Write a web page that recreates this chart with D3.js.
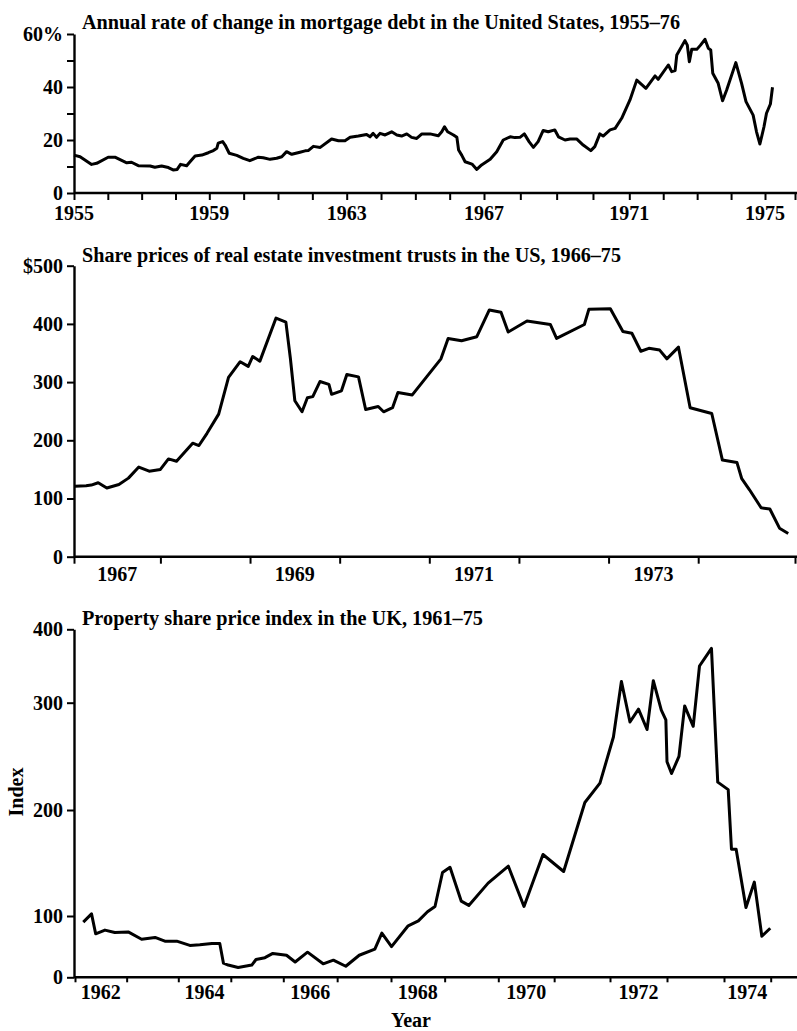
<!DOCTYPE html>
<html>
<head>
<meta charset="utf-8">
<script src="https://cdn.jsdelivr.net/npm/d3@7"></script>
<style>
  body { margin: 0; background: #fff; }
  svg text { font-family: "Liberation Serif", "Times New Roman", serif; font-weight: bold; fill: #000; }
</style>
</head>
<body>
<svg id="chart" width="797" height="1031"></svg>
<script>
// ---- Panel 1: annual rate of change in US mortgage debt (%)
const mortgageYears = [1955.00,1955.18,1955.52,1955.67,1956.01,1956.21,1956.56,1956.70,1956.90,1957.25,
  1957.39,1957.59,1957.79,1957.93,1958.05,1958.15,1958.33,1958.43,1958.58,1958.78,
  1958.97,1959.12,1959.22,1959.26,1959.39,1959.46,1959.58,1959.80,1959.99,1960.18,
  1960.43,1960.57,1960.77,1960.96,1961.11,1961.25,1961.40,1961.64,1961.79,1961.88,
  1962.03,1962.23,1962.56,1962.76,1962.95,1963.10,1963.34,1963.58,1963.68,1963.77,
  1963.87,1963.97,1964.12,1964.31,1964.46,1964.60,1964.75,1964.89,1965.04,1965.19,
  1965.43,1965.67,1965.77,1965.85,1965.94,1966.11,1966.21,1966.26,1966.35,1966.45,
  1966.65,1966.79,1966.93,1967.17,1967.35,1967.53,1967.72,1967.85,1967.99,1968.11,
  1968.24,1968.36,1968.49,1968.63,1968.77,1968.95,1969.05,1969.23,1969.37,1969.55,
  1969.73,1969.94,1970.05,1970.19,1970.28,1970.47,1970.61,1970.79,1971.02,1971.22,
  1971.49,1971.76,1971.85,1972.15,1972.25,1972.35,1972.40,1972.64,1972.71,1972.77,
  1972.84,1972.99,1973.10,1973.23,1973.33,1973.40,1973.46,1973.62,1973.75,1973.87,
  1974.14,1974.31,1974.44,1974.65,1974.75,1974.85,1974.97,1975.05,1975.18,1975.25];
const mortgageRate = [14.3,13.7,10.8,11.2,13.5,13.5,11.4,11.6,10.3,10.2,
  9.7,10.2,9.6,8.7,8.9,10.8,10.3,11.8,14.0,14.3,
  15.2,16.0,16.9,18.8,19.4,18.1,15.0,14.2,13.1,12.2,
  13.5,13.3,12.7,13.1,13.7,15.6,14.6,15.4,15.9,16.0,
  17.6,17.2,20.4,19.7,19.7,21.0,21.5,22.1,21.2,22.5,
  21.0,22.5,21.9,23.1,21.9,21.5,22.3,21.0,20.6,22.3,
  22.3,21.6,23.1,25.0,23.1,21.9,21.0,16.2,14.3,11.8,
  10.9,8.9,10.6,12.7,15.6,20.0,21.2,20.9,21.0,22.3,
  19.4,17.2,19.4,23.6,23.1,23.8,21.2,20.0,20.4,20.4,
  18.1,16.0,17.5,22.3,21.5,23.8,24.4,28.2,35.1,42.6,
  39.5,44.2,42.9,48.3,45.8,46.2,52.1,57.5,55.8,49.5,
  54.2,54.2,55.8,58.0,54.6,54.0,45.2,41.4,34.8,38.9,
  49.2,41.4,34.5,29.4,23.1,18.5,25.0,30.1,33.6,39.9];
const mortgageYTicks = [0, 10, 20, 30, 40, 50, 60];
const mortgageYLabels = [0, 20, 40, 60];
const mortgageXLabels = [1955, 1959, 1963, 1967, 1971, 1975];

// ---- Panel 2: share prices of US real estate investment trusts ($)
const reitYears = [1967.01,1967.14,1967.20,1967.28,1967.38,1967.52,1967.63,1967.75,1967.87,1968.00,
  1968.09,1968.18,1968.36,1968.43,1968.52,1968.65,1968.76,1968.89,1968.98,1969.03,
  1969.11,1969.29,1969.40,1969.45,1969.50,1969.58,1969.64,1969.70,1969.78,1969.88,
  1969.91,1970.02,1970.08,1970.21,1970.29,1970.43,1970.49,1970.59,1970.65,1970.81,
  1971.13,1971.21,1971.36,1971.53,1971.67,1971.80,1971.88,1972.09,1972.35,1972.42,
  1972.73,1972.78,1973.02,1973.16,1973.26,1973.36,1973.45,1973.57,1973.65,1973.78,
  1973.91,1974.14,1974.25,1974.40,1974.45,1974.53,1974.65,1974.74,1974.84,1974.93];
const reitPrice = [121,122,123,127,118,124,135,154,147,150,
  168,164,195,191,212,245,308,335,327,344,
  336,410,403,341,268,249,273,275,301,296,
  279,285,313,309,253,258,249,256,282,278,
  340,375,371,378,424,420,386,405,399,375,
  399,425,426,387,384,353,358,355,340,360,
  256,246,166,162,134,115,84,82,49,40];
const reitYTicks = [0, 100, 200, 300, 400, 500];
const reitXLabels = [1967, 1969, 1971, 1973];

// ---- Panel 3: UK property share price index
const ukYears = [1962.16,1962.32,1962.40,1962.58,1962.77,1963.03,1963.29,1963.55,1963.74,1963.97,
  1964.22,1964.41,1964.64,1964.79,1964.86,1964.95,1965.14,1965.40,1965.48,1965.65,
  1965.80,1966.06,1966.22,1966.45,1966.74,1966.93,1967.16,1967.41,1967.70,1967.83,
  1968.01,1968.32,1968.51,1968.68,1968.82,1968.96,1969.10,1969.31,1969.45,1969.81,
  1970.18,1970.46,1970.80,1971.17,1971.55,1971.82,1972.06,1972.20,1972.35,1972.50,
  1972.65,1972.76,1972.90,1972.98,1973.00,1973.08,1973.21,1973.31,1973.46,1973.57,
  1973.78,1973.89,1974.09,1974.16,1974.26,1974.47,1974.65,1974.81,1974.99];
const ukIndex = [90,102,71,77,73,74,62,65,59,59,
  52,53,55,55,23,20,16,20,29,32,
  39,36,25,41,22,28,18,36,46,72,
  50,84,92,104,109,141,146,114,110,131,
  147,109,158,142,207,225,268,329,282,294,
  275,330,293,284,245,234,250,297,278,350,
  374,226,219,163,163,108,132,67,80];
const ukYTicks = [0, 100, 200, 300, 400];
const ukXLabels = [1962, 1964, 1966, 1968, 1970, 1972, 1974];

const W = 797, H = 1031;
const axisX = 74;
const svg = d3.select("#chart");
svg.append("rect").attr("width", W).attr("height", H).attr("fill", "#fff");

function drawPanel(p) {
  const g = svg.append("g");
  // hand-drawn axes in the original are slightly uneven, so the scales are polylinear
  const x = d3.scaleLinear().domain(p.xDomain).range(p.xRange);
  const y = d3.scaleLinear().domain(p.yDomain).range(p.yRange);
  const y0 = y(0);

  // y axis
  const yAxis = d3.axisLeft(y)
    .tickValues(p.yTicks)
    .tickSize(7)
    .tickSizeOuter(0)
    .tickPadding(4)
    .tickFormat(d => p.yLabels.includes(d) ? p.yFormat(d) : "");
  const ya = g.append("g")
    .attr("transform", "translate(" + axisX + ",0)")
    .call(yAxis);
  ya.attr("font-size", null).attr("font-family", null);
  ya.selectAll("line").attr("stroke-width", 2);
  ya.select(".domain").attr("stroke-width", 2.4);
  ya.selectAll("text").style("font-size", "20px");

  // x axis: year ticks, then labels
  const xa = g.append("g")
    .attr("transform", "translate(0," + y0 + ")")
    .call(d3.axisBottom(x).tickValues(d3.range(p.xDomain[0], p.xTickEnd + 1)).tickSize(p.xTickSize).tickFormat(""));
  xa.select(".domain").remove();
  xa.selectAll("line").attr("stroke-width", 2);
  g.append("line")
    .attr("x1", axisX).attr("x2", W)
    .attr("y1", y0).attr("y2", y0)
    .attr("stroke", "#000").attr("stroke-width", 2.4);

  g.selectAll(".xlab")
    .data(p.xLabels)
    .enter().append("text")
    .attr("class", "xlab")
    .attr("x", d => x(d + p.labelShift))
    .attr("y", y0 + p.labelDy)
    .attr("text-anchor", "middle")
    .style("font-size", "20px")
    .text(d => d);

  // series
  const pts = p.years.map((yr, i) => [yr, p.values[i]]);
  g.append("path")
    .datum(pts)
    .attr("fill", "none")
    .attr("stroke", "#000")
    .attr("stroke-width", 3)
    .attr("stroke-linejoin", "round")
    .attr("d", d3.line().x(d => x(d[0])).y(d => y(d[1])));

  // title
  g.append("text")
    .attr("x", 82)
    .attr("y", p.titleY)
    .attr("textLength", p.titleW)
    .attr("lengthAdjust", "spacingAndGlyphs")
    .style("font-size", "20px")
    .text(p.title);
}

drawPanel({
  title: "Annual rate of change in mortgage debt in the United States, 1955\u201376",
  titleY: 29, titleW: 598,
  years: mortgageYears, values: mortgageRate,
  xDomain: [1955, 1959, 1963, 1967, 1971, 1975, 1976],
  xRange: [74, 209.3, 346.7, 484, 629.3, 765, 795],
  xTickEnd: 1976, xTickSize: 7,
  xLabels: mortgageXLabels, labelShift: 0, labelDy: 27,
  yDomain: [0, 60], yRange: [193, 34],
  yTicks: mortgageYTicks, yLabels: mortgageYLabels,
  yFormat: d => d === 60 ? "60%" : d
});

drawPanel({
  title: "Share prices of real estate investment trusts in the US, 1966\u201375",
  titleY: 262, titleW: 539,
  years: reitYears, values: reitPrice,
  xDomain: [1967, 1968, 1974, 1975],
  xRange: [74, 160.4, 698.2, 795],
  xTickEnd: 1975, xTickSize: 7,
  xLabels: reitXLabels, labelShift: 0.5, labelDy: 24,
  yDomain: [0, 500], yRange: [556.7, 265.7],
  yTicks: reitYTicks, yLabels: reitYTicks,
  yFormat: d => d === 500 ? "$500" : d
});

drawPanel({
  title: "Property share price index in the UK, 1961\u201375",
  titleY: 625, titleW: 401,
  years: ukYears, values: ukIndex,
  xDomain: [1962, 1964, 1966, 1968, 1970, 1972, 1974, 1975],
  xRange: [75, 178.3, 283.3, 391, 498.3, 610, 724, 770.7],
  xTickEnd: 1975, xTickSize: 5,
  xLabels: ukXLabels, labelShift: 0.5, labelDy: 22,
  yDomain: [0, 100, 200, 300, 400], yRange: [977.3, 916, 810, 702.7, 629.3],
  yTicks: ukYTicks, yLabels: ukYTicks,
  yFormat: d => d
});

// axis titles for the bottom panel
svg.append("text")
  .attr("transform", "translate(23,792) rotate(-90)")
  .attr("text-anchor", "middle")
  .style("font-size", "20px")
  .text("Index");

svg.append("text")
  .attr("x", 411)
  .attr("y", 1027)
  .attr("text-anchor", "middle")
  .style("font-size", "20px")
  .text("Year");
</script>
</body>
</html>
